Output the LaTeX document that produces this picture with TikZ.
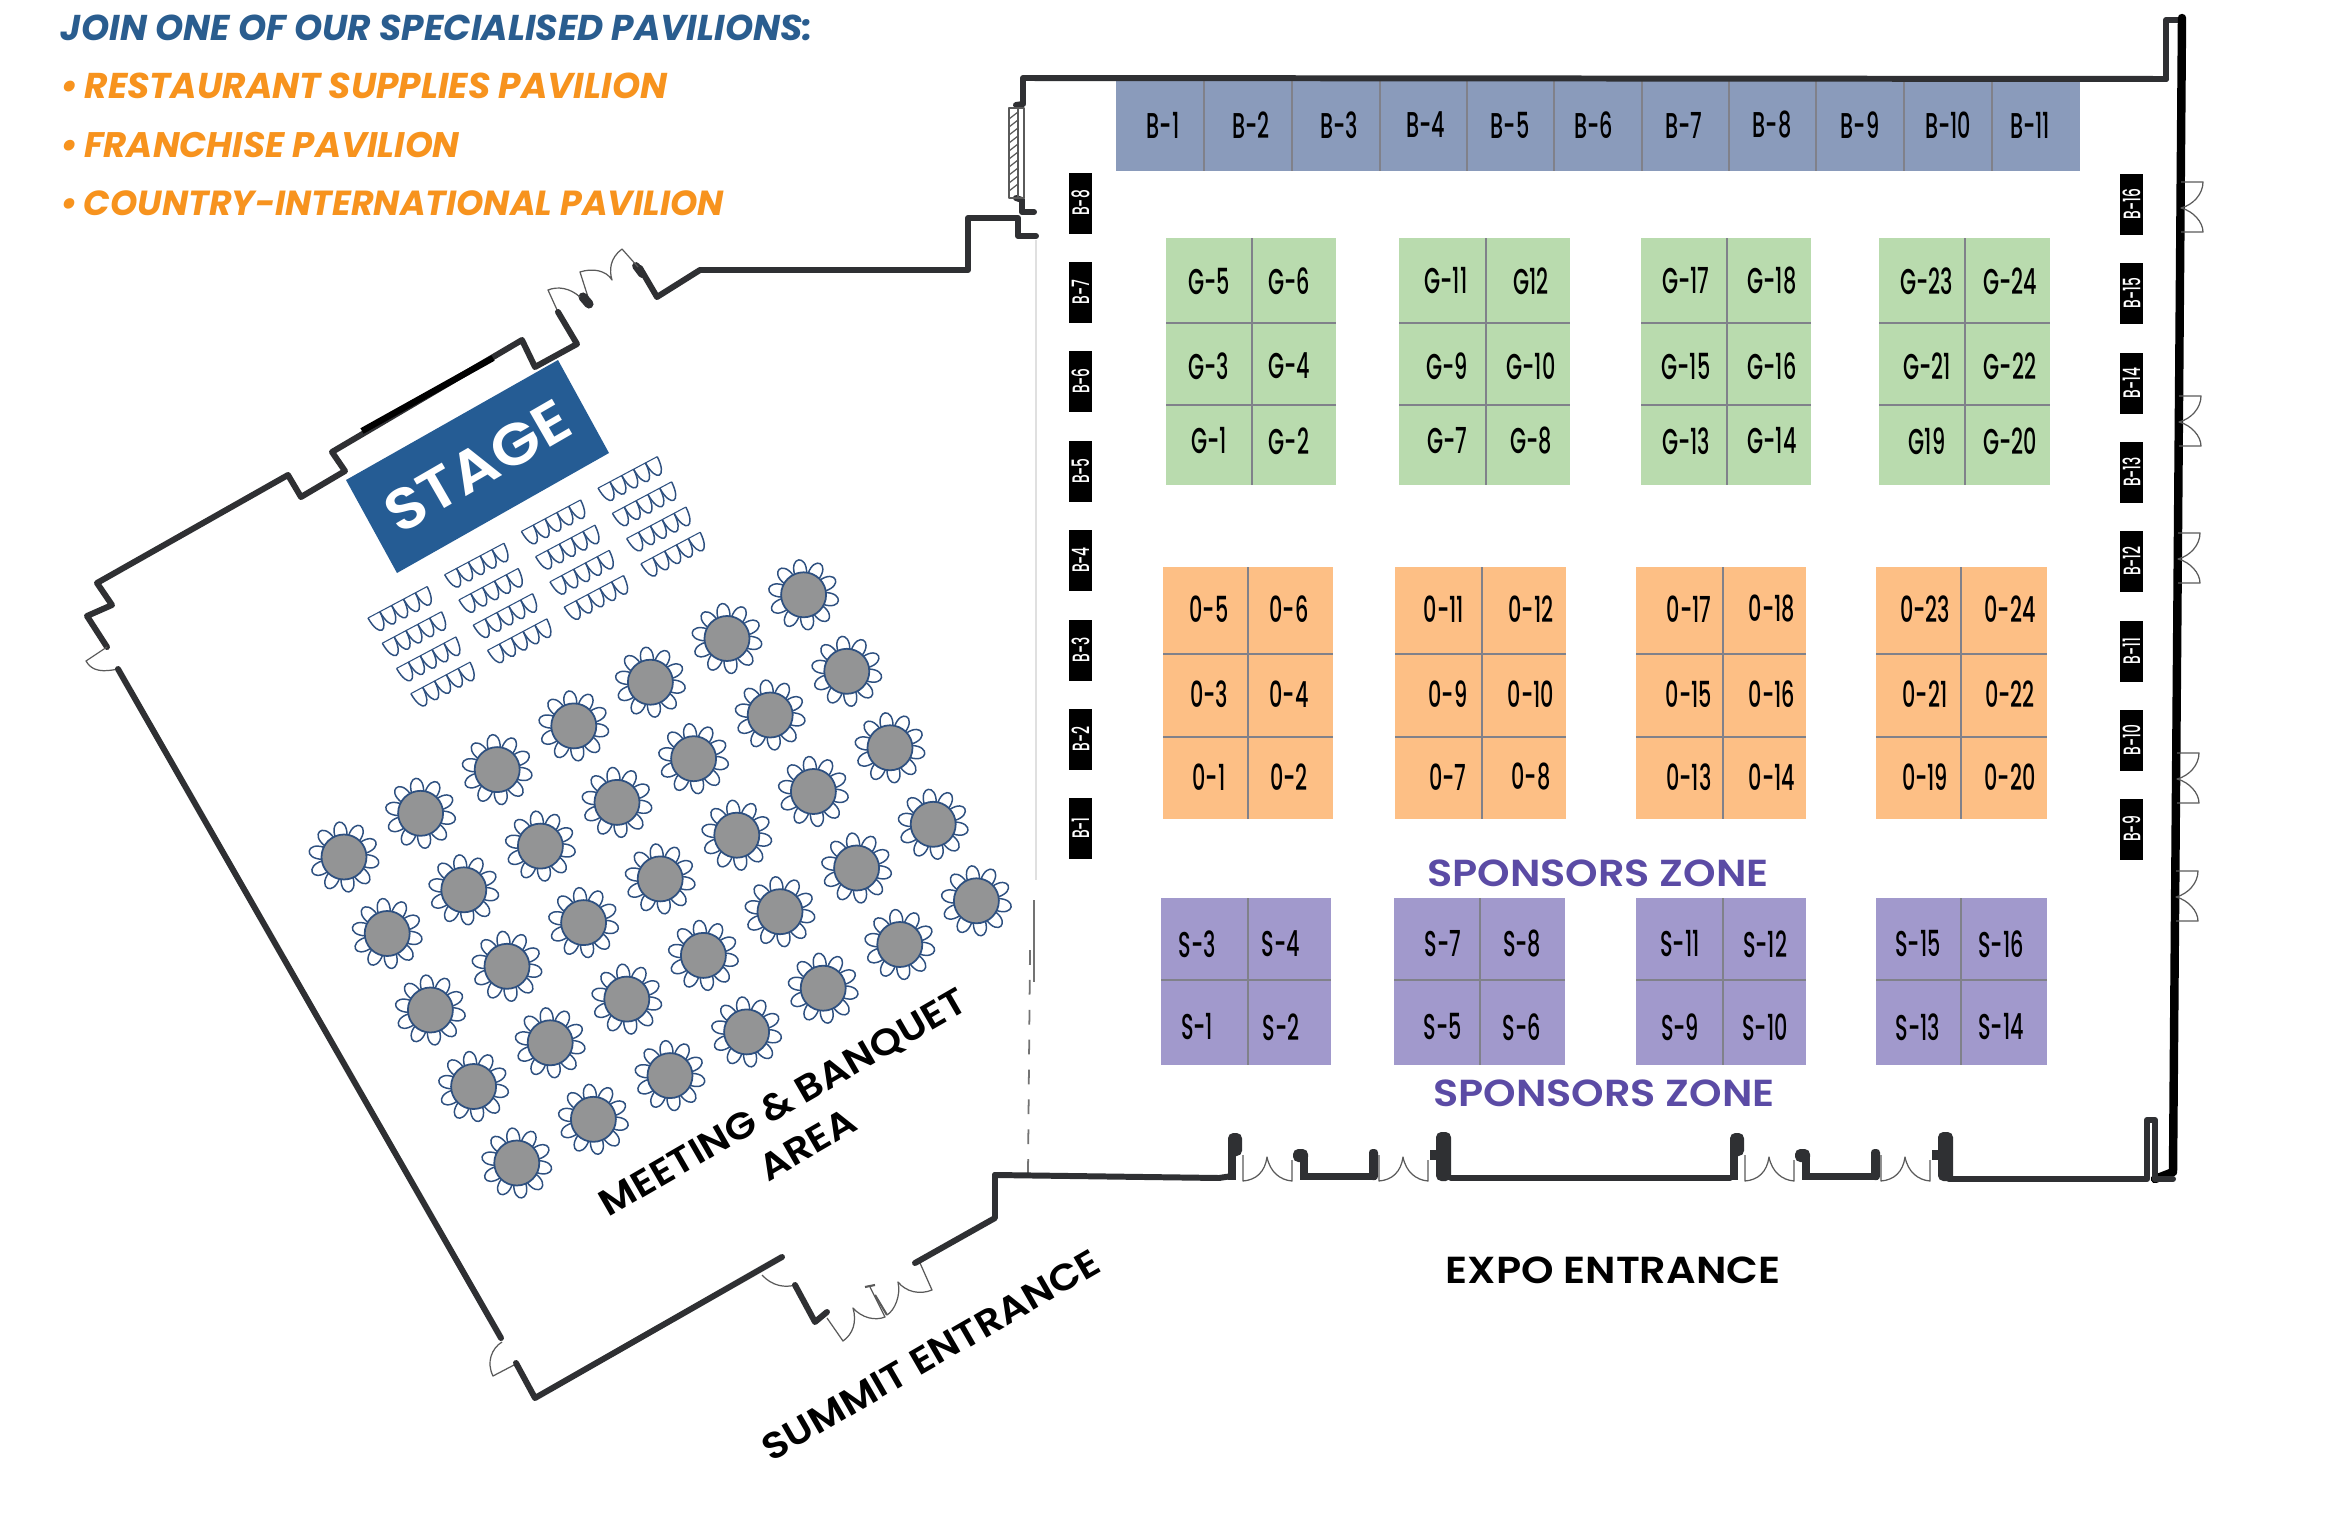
\documentclass[tikz,border=0pt]{standalone}
\usepackage{fontspec}
\setmainfont{Poppins}
\newfontfamily\boothf[FakeStretch=0.58]{Poppins Medium}
\newfontfamily\widef[FakeStretch=1.1]{Poppins SemiBold}
\definecolor{wallc}{HTML}{2F3033}
\definecolor{doorc}{HTML}{5A5A5A}
\definecolor{chairc}{HTML}{2E5080}
\definecolor{tablec}{HTML}{939495}
\definecolor{stagec}{HTML}{255C94}
\definecolor{headc}{HTML}{2A5D8F}
\definecolor{orangec}{HTML}{F7931E}
\definecolor{zonec}{HTML}{5B4BA5}
\definecolor{bluebooth}{HTML}{8A9BBB}
\definecolor{greenbooth}{HTML}{B9DBAE}
\definecolor{orangebooth}{HTML}{FDBF85}
\definecolor{purplebooth}{HTML}{A199CC}
\definecolor{divc}{HTML}{80818A}
\tikzset{
  wall/.style={draw=wallc,line width=1.7pt,line join=round,line cap=round},
  blackwall/.style={draw=black,line width=2.4pt,line join=round,line cap=round},
  doorline/.style={draw=doorc,line width=.35pt,line join=round},
  divider/.style={draw=divc,line width=.55pt},
  boothtext/.style={font=\boothf\fontsize{10.2}{11}\selectfont,text=black,inner sep=0pt},
  sidebox/.style={fill=black,text=white,minimum width=61*0.01cm,minimum height=23*0.01cm,inner sep=0pt,rotate=90,font=\boothf\fontsize{6.8}{7}\selectfont},
  roundtable/.pic={
    \foreach \a in {10,46,...,334}{
      \draw[chairc,line width=.42pt,rotate=-\a] (21,-6) .. controls (40,-9) and (40,9) .. (21,6);
    }
    \draw[chairc,line width=.5pt,fill=tablec] (0,0) circle[radius=22.5];
  },
  seatrow/.pic={
    \foreach \i in {0,13.4,26.8,40.2,53.6}{
      \draw[chairc,line width=.42pt] (\i,0) .. controls (\i+0.5,23) and (\i+12.9,23) .. (\i+13.4,0);
    }
    \draw[chairc,line width=.3pt] (0,0) -- (67,0);
  }
}
\newcommand\entrydoors[1]{%
\begin{scope}[shift={(#1,0)}]
  \fill[wallc,rounded corners=1.5] (1228,1133) rectangle (1242,1156);
  \fill[wallc] (1228,1150) rectangle (1236,1180);
  \draw[doorline] (1243,1155) -- (1243,1181) .. controls (1256,1180) and (1265,1172) .. (1267,1157) .. controls (1270,1172) and (1280,1180) .. (1292,1181) -- (1292,1160);
  \fill[wallc,rounded corners=1.5] (1293,1149) rectangle (1308,1162);
  \fill[wallc] (1300,1155) rectangle (1308,1180);
  \fill[wallc] (1300,1173) rectangle (1376,1180);
  \fill[wallc,rounded corners=1] (1369,1149) rectangle (1378,1180);
  \draw[doorline] (1379,1155) -- (1379,1181) .. controls (1392,1180) and (1401,1172) .. (1403,1157) .. controls (1406,1172) and (1416,1180) .. (1428,1181) -- (1428,1160);
  \fill[wallc] (1430,1150) rectangle (1442,1160);
  \fill[wallc,rounded corners=1.5] (1436,1132) rectangle (1451,1181);
\end{scope}}
\newcommand\sidedoor[2]{% wall x, top y
  \draw[doorline] (#1,#2) -- (#1+22,#2) .. controls (#1+22,#2+12) and (#1+12,#2+23) .. (#1,#2+26)
     .. controls (#1+12,#2+29) and (#1+22,#2+40) .. (#1+22,#2+50) -- (#1,#2+50);}
\begin{document}
\begin{tikzpicture}[x=0.01cm,y=-0.01cm]
\useasboundingbox (0,0) rectangle (2335,1521);
\fill[white] (0,0) rectangle (2335,1521);

% booth blocks
\fill[bluebooth] (1116,80) rectangle (2080,171);
\foreach \x in {1204,1292,1380,1467,1554,1642,1729,1816,1904,1992}{\draw[divider] (\x,80) -- (\x,171);}
\foreach \a/\b/\c in {1166/1252/1336,1399/1486/1570,1641/1727/1811,1879/1965/2050}{
  \fill[greenbooth] (\a,238) rectangle (\c,485);
  \draw[divider] (\b,238) -- (\b,485) (\a,323) -- (\c,323) (\a,405) -- (\c,405);
}
\foreach \a/\b/\c in {1163/1248/1333,1395/1482/1566,1636/1723/1806,1876/1961/2047}{
  \fill[orangebooth] (\a,567) rectangle (\c,819);
  \draw[divider] (\b,567) -- (\b,819) (\a,654) -- (\c,654) (\a,737) -- (\c,737);
}
\foreach \a/\b/\c in {1161/1248/1331,1394/1480/1565,1636/1723/1806,1876/1961/2047}{
  \fill[purplebooth] (\a,898) rectangle (\c,1065);
  \draw[divider] (\b,898) -- (\b,1065) (\a,980) -- (\c,980);
}
% booth labels
\foreach \x/\t in {1163/B-1,1251/B-2,1339/B-3,1426/B-4,1510/B-5,1594/B-6,1684/B-7,1772/B-8,1860/B-9,1948/B-10,2030/B-11}{
  \node[boothtext] (top\t) at (\x,125) {\t};
}
\foreach \x/\y/\t in {1209/281/G-5,1289/281/G-6,1209/366/G-3,1289/366/G-4,1209/441/G-1,1289/441/G-2,
  1446/281/G-11,1531/281/G12,1447/366/G-9,1531/366/G-10,1447/441/G-7,1531/441/G-8,
  1686/281/G-17,1772/281/G-18,1686/366/G-15,1772/366/G-16,1686/441/G-13,1772/441/G-14,
  1927/281/G-23,2010/281/G-24,1927/366/G-21,2010/366/G-22,1927/441/G19,2010/441/G-20,
  1209/609/0-5,1289/609/0-6,1209/694/0-3,1289/694/0-4,1209/777/0-1,1289/777/0-2,
  1444/609/0-11,1531/609/0-12,1448/694/0-9,1531/694/0-10,1448/777/0-7,1531/777/0-8,
  1689/609/0-17,1772/609/0-18,1689/694/0-15,1772/694/0-16,1689/777/0-13,1772/777/0-14,
  1925/609/0-23,2010/609/0-24,1925/694/0-21,2010/694/0-22,1925/777/0-19,2010/777/0-20,
  1197/944/S-3,1281/944/S-4,1197/1027/S-1,1281/1027/S-2,
  1443/944/S-7,1522/944/S-8,1443/1027/S-5,1522/1027/S-6,
  1680/944/S-11,1765/944/S-12,1680/1027/S-9,1765/1027/S-10,
  1918/944/S-15,2001/944/S-16,1918/1027/S-13,2001/1027/S-14}{
  \node[boothtext] (\t) at (\x,\y) {\t};
}
% side booths
\foreach \y/\t in {203/B-8,292/B-7,381/B-6,471/B-5,560/B-4,650/B-3,739/B-2,828/B-1}{
  \node[sidebox] (left\t) at (1080.5,\y) {\t};
}
\foreach \y/\t in {204/B-16,293/B-15,383/B-14,472/B-13,561/B-12,651/B-11,740/B-10,829/B-9}{
  \node[sidebox] (right\t) at (2131.5,\y) {\t};
}

% divider between halls
\draw[draw=black!12,line width=.3pt] (1036,240) -- (1036,880);
\draw[draw=black!55,line width=.4pt] (1034,900) -- (1034,982);
\draw[draw=black!55,line width=.5pt,dash pattern=on 4.2pt off 4.3pt] (1030,950) -- (1028,1175);

% outer walls : top and left of exhibition hall
\draw[wall] (2166,79) -- (1023,78) -- (1023,104) -- (1016,105);
\draw[wall] (2166,79) -- (2166,20) -- (2182,20);
\draw[blackwall] (2182,18) -- (2173,1172) -- (2155,1179);
\draw[wall] (1016,198) -- (1022,200) -- (1022,212) -- (1034,212);
\draw[wall] (1036,236) -- (1018,236) -- (1018,218) -- (968,218) -- (968,270) -- (700,270) -- (657,297) -- (640,268);
\draw[wall,line width=2.2pt] (636,266) -- (642,274);
% hatched panel
\draw[doorline] (1009,108) rectangle (1018,198);
\draw[doorline] (1018,108) -- (1024,108) -- (1024,198) -- (1018,198);
\foreach \y in {112,120,...,190}{\draw[doorline] (1009,\y+7) -- (1018,\y);}
% upper-left doors
\draw[doorline] (638,267) -- (622,249) .. controls (610,258) and (609,270) .. (612,280) .. controls (606,270) and (592,268) .. (580,272) -- (588,297);
\draw[wall,line width=2.6pt] (583,297) -- (589,304);
\draw[doorline] (580,297) .. controls (570,288) and (558,286) .. (548,290) -- (558,312);
% stage-side wall
\draw[wall] (558,312) -- (577,344) -- (535,367) -- (522,340) -- (332,452) -- (345,471) -- (301,497) -- (288,475) -- (97,583) -- (112,605) -- (87,616) -- (107,647);
\draw[draw=black,line width=1.8pt] (362,431) -- (493,358);
% left door
\draw[doorline] (107,647) -- (86,661) .. controls (92,672) and (104,672) .. (118,669);
% long left wall
\draw[wall] (118,669) -- (501,1338);
\draw[doorline] (502,1342) .. controls (492,1348) and (486,1362) .. (493,1376) -- (514,1365);
\draw[wall] (516,1363) -- (535,1398) -- (782,1257);
% summit doors
\draw[doorline] (762,1275) .. controls (772,1286) and (785,1288) .. (795,1285);
\draw[wall] (795,1285) -- (815,1322) -- (827,1312);
\draw[doorline] (827,1318) -- (843,1341) .. controls (853,1334) and (857,1322) .. (853,1308) .. controls (862,1318) and (875,1321) .. (885,1317) -- (870,1287);
\draw[doorline,line width=.6pt] (865,1287) -- (875,1285);
\draw[doorline,line width=.6pt] (887,1315) -- (875,1295);
\draw[doorline] (887,1315) .. controls (895,1310) and (901,1295) .. (898,1282) .. controls (906,1292) and (920,1295) .. (932,1290) -- (920,1263);
\draw[wall] (915,1263) -- (995,1218) -- (995,1175);
\draw[wall] (995,1175) -- (1219,1178) -- (1232,1176);
\entrydoors{0}
\entrydoors{502}
\draw[wall] (1451,1178) -- (1730,1178);
\draw[wall] (1949,1179) -- (2147,1179) -- (2147,1120) -- (2155,1120) -- (2155,1179);
\draw[wall] (2155,1179) -- (2173,1179);
% right doors
\sidedoor{2181}{182}
\sidedoor{2179}{396}
\sidedoor{2178}{533}
\sidedoor{2177}{753}
\sidedoor{2176}{871}

% stage
\fill[stagec] (558,360) -- (609,453) -- (397,573) -- (346,480) -- cycle;
\node[font=\widef\fontsize{16.5}{18}\selectfont,text=white,rotate=30,inner sep=0pt] (stage) at (477.5,466.5) {STAGE};

% theatre chairs
\foreach \i in {0,1,2,3}{
  \foreach \j in {0,1,2,3}{
    \path ({368+76.7*\i+14.3*\j},{618-43.3*\i+25.2*\j}) pic[rotate=28] {seatrow};
  }
}
% round tables
\foreach \r in {0,...,4}{
  \foreach \c in {0,...,6}{
    \path ({344+76.6*\c+43.2*\r},{857-43.7*\c+76.5*\r}) pic {roundtable};
  }
}

% texts
\node[anchor=west,font=\bfseries\itshape\fontsize{10.2}{12}\selectfont,text=headc,inner sep=0pt] (h0) at (60,28) {JOIN ONE OF OUR SPECIALISED PAVILIONS:};
\node[anchor=west,font=\bfseries\itshape\fontsize{10.2}{12}\selectfont,text=orangec,inner sep=0pt] (h1) at (60,86) {•\,RESTAURANT SUPPLIES PAVILION};
\node[anchor=west,font=\bfseries\itshape\fontsize{10.1}{12}\selectfont,text=orangec,inner sep=0pt] (h2) at (60,145) {•\,FRANCHISE PAVILION};
\node[anchor=west,font=\bfseries\itshape\fontsize{9.9}{12}\selectfont,text=orangec,inner sep=0pt] (h3) at (60,203) {•\,COUNTRY-INTERNATIONAL PAVILION};
\node[font=\widef\fontsize{10.7}{14}\selectfont,text=zonec,inner sep=0pt] (z1) at (1598,873) {SPONSORS ZONE};
\node[font=\widef\fontsize{10.7}{14}\selectfont,text=zonec,inner sep=0pt] (z2) at (1604,1093) {SPONSORS ZONE};
\node[font=\widef\fontsize{10.7}{14}\selectfont,text=black,inner sep=0pt] (expo) at (1613,1270) {EXPO ENTRANCE};
\node[font=\widef\fontsize{10.5}{14}\selectfont,text=black,inner sep=0pt,rotate=30] (summit) at (931,1355) {SUMMIT ENTRANCE};
\node[font=\widef\fontsize{10.5}{14}\selectfont,text=black,inner sep=0pt,rotate=30,align=center] (meeting) at (795,1123) {MEETING \& BANQUET\\AREA};
\end{tikzpicture}
\end{document}
